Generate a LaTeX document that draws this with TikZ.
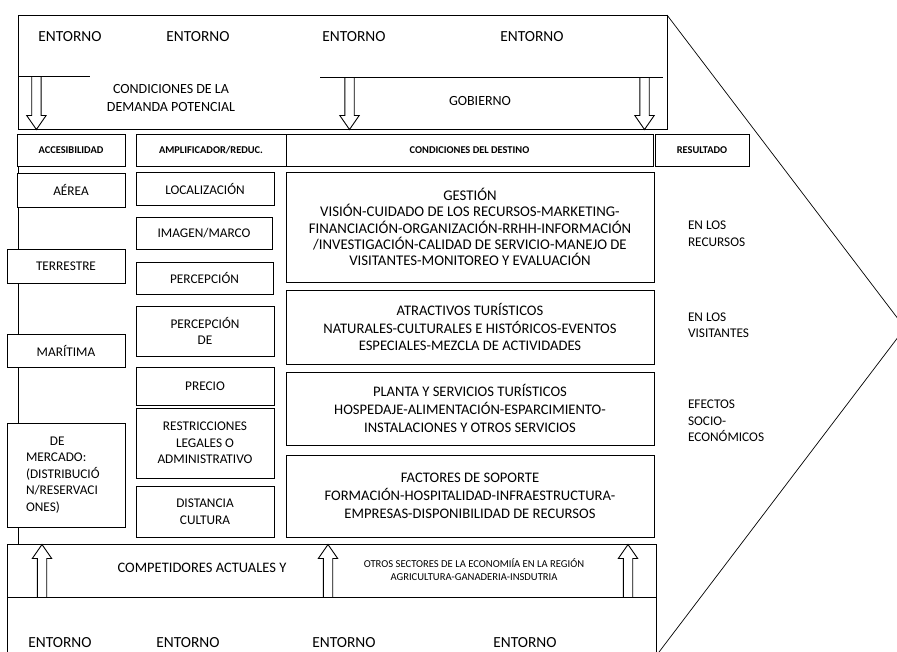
\documentclass[tikz,border=0pt]{standalone}
\usepackage{fontspec}
\setmainfont{Carlito}

\begin{document}
\begin{tikzpicture}[
		x=1pt, y=-1pt,
		line width=0.9pt,
		every node/.style={font=\fontsize{13.3}{16.5}\selectfont, inner sep=0pt, outer sep=0pt},
		box/.style={draw, fill=white, align=center},
		headbox/.style={box, minimum height=32pt, font=\fontsize{10.4}{12}\selectfont\bfseries},
		big/.style={font=\fontsize{15.4}{17.8}\selectfont, align=center},
		destbox/.style={box, minimum width=368pt, font=\fontsize{14.6}{17.8}\selectfont},
		small/.style={font=\fontsize{10.6}{13}\selectfont, align=center},
		fat down/.pic={
			\draw (-4.7,0) -- (-4.7,38.5) -- (-9.7,38.5) -- (0,52.5) -- (9.7,38.5) -- (4.7,38.5) -- (4.7,0);
		}
		]
		
		\useasboundingbox (0,0) rectangle (897,651);
		\clip (0,0) rectangle (897,651);
		
		% -------- Upper environment --------
		\draw (18,15) rectangle (667,129);
		\draw (18,76.5) -- (90,76.5);
		\draw (320,77) -- (663,77);
		
		\node[big] (e1) at (70,37) {ENTORNO};
		\node[big] (e2) at (198,37) {ENTORNO};
		\node[big] (e3) at (354,37) {ENTORNO};
		\node[big] (e4) at (532,37) {ENTORNO};
		
		\node[align=center, font=\fontsize{14}{18}\selectfont] (dem) at (171,98) {CONDICIONES DE LA\\DEMANDA POTENCIAL};
		\node[font=\fontsize{14}{18}\selectfont] (gob) at (480,101) {GOBIERNO};
		
		\pic at (36.4,77) {fat down};
		\pic at (349.5,77) {fat down};
		\pic at (644.5,77) {fat down};
		
		% -------- Column headers --------
		\node[headbox, minimum width=108pt] (acc) at (71,150) {ACCESIBILIDAD};
		\node[headbox, minimum width=150pt] (amp) at (211,150) {AMPLIFICADOR/REDUC.};
		\node[headbox, minimum width=367pt] (cond) at (469.5,150) {CONDICIONES DEL DESTINO};
		\node[headbox, minimum width=94pt] (res) at (702,150) {RESULTADO};
		
		% -------- Accessibility --------
		\draw (18,166) -- (18,544);
		\node[box, minimum width=108pt, minimum height=34pt] (aer) at (71,190) {AÉREA};
		\node[box, minimum width=118pt, minimum height=34pt] (ter) at (66,266) {TERRESTRE};
		\node[box, minimum width=118pt, minimum height=33pt] (mar) at (66,350.5) {MARÍTIMA};
		\node[box, minimum width=118pt, minimum height=104pt, text width=80pt, align=left] (merc) at (66,475)
			{\hspace*{24pt}DE\\MERCADO:\\(DISTRIBUCIÓ\\N/RESERVACI\\ONES)};
		
		% -------- Amplifiers / reducers --------
		\node[box, minimum width=138pt, minimum height=33pt] (loc) at (205,188.5) {LOCALIZACIÓN};
		\node[box, minimum width=136pt, minimum height=32pt] (img) at (204,233) {IMAGEN/MARCO};
		\node[box, minimum width=137pt, minimum height=32pt] (perc) at (204.5,278) {PERCEPCIÓN};
		\node[box, minimum width=138pt, minimum height=50pt] (percd) at (205,331) {PERCEPCIÓN\\DE};
		\node[box, minimum width=138pt, minimum height=38pt] (prec) at (205,386) {PRECIO};
		\node[box, minimum width=138pt, minimum height=70pt] (restr) at (205,443) {RESTRICCIONES\\LEGALES O\\ADMINISTRATIVO};
		\node[box, minimum width=138pt, minimum height=51pt] (dist) at (205,511.5) {DISTANCIA\\CULTURA};
		
		% -------- Destination conditions --------
		\node[destbox, minimum height=110pt, font=\fontsize{14.8}{16.3}\selectfont] (gest) at (470,227)
			{GESTIÓN\\VISIÓN-CUIDADO DE LOS RECURSOS-MARKETING-\\FINANCIACIÓN-ORGANIZACIÓN-RRHH-INFORMACIÓN\\/INVESTIGACIÓN-CALIDAD DE SERVICIO-MANEJO DE\\VISITANTES-MONITOREO Y EVALUACIÓN};
		\node[destbox, minimum height=74pt] (atr) at (470,327)
			{ATRACTIVOS TURÍSTICOS\\NATURALES-CULTURALES E HISTÓRICOS-EVENTOS\\ESPECIALES-MEZCLA DE ACTIVIDADES};
		\node[destbox, minimum height=73pt] (plan) at (470,408.5)
			{PLANTA Y SERVICIOS TURÍSTICOS\\HOSPEDAJE-ALIMENTACIÓN-ESPARCIMIENTO-\\INSTALACIONES Y OTROS SERVICIOS};
		\node[destbox, minimum height=82pt] (fact) at (470,496)
			{FACTORES DE SOPORTE\\FORMACIÓN-HOSPITALIDAD-INFRAESTRUCTURA-\\EMPRESAS-DISPONIBILIDAD DE RECURSOS};
		
		% -------- Results --------
		\node[anchor=west, align=left] (r1) at (688,233.5) {EN LOS\\RECURSOS};
		\node[anchor=west, align=left] (r2) at (688,325) {EN LOS\\VISITANTES};
		\node[anchor=west, align=left] (r3) at (688,421) {EFECTOS\\SOCIO-\\ECONÓMICOS};
		
		% -------- Lower environment --------
		\draw (7,544) rectangle (656,597);
		\draw (7,597) -- (7,660);
		\draw (656,597) -- (656,660);
		
		\node[font=\fontsize{14.5}{18}\selectfont] (comp) at (202,568) {COMPETIDORES ACTUALES Y};
		\node[small] (otros) at (474,569.5) {OTROS SECTORES DE LA ECONOMIÍA EN LA REGIÓN\\AGRICULTURA-GANADERIA-INSDUTRIA};
		
		\pic[rotate=180] at (42,597) {fat down};
		\pic[rotate=180] at (328,597) {fat down};
		\pic[rotate=180] at (628,597) {fat down};
		
		\node[big] (b1) at (60,643) {ENTORNO};
		\node[big] (b2) at (188,643) {ENTORNO};
		\node[big] (b3) at (344,643) {ENTORNO};
		\node[big] (b4) at (525,643) {ENTORNO};
		
		% -------- Outcome chevron --------
		\draw[line width=0.7pt] (667,15) -- (905,328) -- (656,656);
		
	\end{tikzpicture}
\end{document}
